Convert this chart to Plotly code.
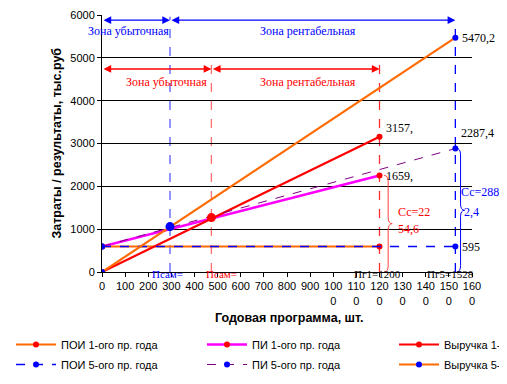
import plotly.graph_objects as go

# ---------------- data ----------------
x_ticks = [0, 100, 200, 300, 400, 500, 600, 700, 800, 900, 1000, 1100, 1200, 1300, 1400, 1500, 1600]
x_ticktext = ["0", "100", "200", "300", "400", "500", "600", "700", "800", "900",
              "100<br>0", "110<br>0", "120<br>0", "130<br>0", "140<br>0", "150<br>0", "160<br>0"]
y_ticks = [0, 1000, 2000, 3000, 4000, 5000, 6000]

pg1 = 1200          # Пг1
pg5 = 1528          # Пг5
poi = 595           # постоянные издержки
pi1_end = 2254.6    # ПИ 1-ого года при Пг1
rev1_end = 3157.2   # Выручка 1-ого года при Пг1
pi5_end = 2882.4    # ПИ 5-ого года при Пг5
rev5_end = 5470.2   # Выручка 5-ого года при Пг5
var1 = "1659,"
var5 = "2287,4"
bep1 = (473, 1270)  # Псам 1-ого года
bep5 = (294, 1060)  # Псам 5-ого года

series = [
    # name, x, y, line color, marker color, dash, width, legend, group
    ("ПОИ 1-ого пр. года", [0, pg1], [poi, poi], "#FF6A00", "#FF0000", "solid", 2.2, "legend", "a"),
    ("ПИ 1-ого пр. года", [0, pg1], [poi, pi1_end], "#FF00FF", "#FF0000", "solid", 2.5, "legend2", "a"),
    ("Выручка 1-", [0, pg1], [0, rev1_end], "#FF0000", "#FF0000", "solid", 2.2, "legend3", "a"),
    ("ПОИ 5-ого пр. года", [0, pg5], [poi, poi], "#0000FF", "#0000FF", "dash", 1.4, "legend", "b"),
    ("ПИ 5-ого пр. года", [0, pg5], [poi, pi5_end], "#800080", "#0000FF", "dash", 1.0, "legend2", "b"),
    ("Выручка 5-", [0, pg5], [0, rev5_end], "#FF6A00", "#0000FF", "solid", 2.2, "legend3", "b"),
]

fig = go.Figure()
for name, xs, ys, lc, mc, dash, w, lg, grp in series:
    fig.add_trace(go.Scatter(
        x=xs, y=ys, name=name, mode="lines+markers",
        line=dict(color=lc, width=w, dash=dash),
        marker=dict(color=mc, size=6),
        legend=lg, legendgroup=lg + grp,
    ))

# break-even markers
fig.add_trace(go.Scatter(x=[bep5[0]], y=[bep5[1]], mode="markers", showlegend=False,
                         marker=dict(color="#0000FF", size=9)))
fig.add_trace(go.Scatter(x=[bep1[0]], y=[bep1[1]], mode="markers", showlegend=False,
                         marker=dict(color="#FF0000", size=9)))

# vertical dashed lines
vlines = [
    (bep5[0], 5960, "#5A5AFF"),
    (bep1[0], 4960, "#FF7070"),
    (pg1, 5010, "#FF3030"),
    (pg5, 5880, "#0000FF"),
]
for xv, ytop, col in vlines:
    fig.add_shape(type="line", x0=xv, x1=xv, y0=0, y1=ytop, xref="x", yref="y",
                  line=dict(color=col, width=1.3, dash="dash"), layer="below")

serif = "Liberation Serif"

# zone arrows
arrow_y5 = 5880
arrow_y1 = 4740
arrows = [
    (0, bep5[0], arrow_y5, "#0000FF"),
    (bep5[0], pg5, arrow_y5, "#0000FF"),
    (0, bep1[0], arrow_y1, "#FF0000"),
    (bep1[0], pg1, arrow_y1, "#FF0000"),
]
for xa, xb, ya, col in arrows:
    fig.add_annotation(x=xb, y=ya, ax=xa, ay=ya, xref="x", yref="y", axref="x", ayref="y",
                       text="", showarrow=True, arrowhead=2, arrowside="end+start",
                       arrowsize=1.1, arrowwidth=1.4, arrowcolor=col, standoff=0, startstandoff=0)

texts = [
    (115, 5620, "Зона убыточная", "#0000FF", "center"),
    (890, 5620, "Зона рентабельная", "#0000FF", "center"),
    (280, 4440, "Зона убыточная", "#FF0000", "center"),
    (890, 4440, "Зона рентабельная", "#FF0000", "center"),
]
for xt, yt, t, col, al in texts:
    fig.add_annotation(x=xt, y=yt, text=t, showarrow=False, xref="x", yref="y",
                       font=dict(family=serif, size=12, color=col), xanchor=al)

# value labels
labels = [
    (pg5 + 20, rev5_end, str(rev5_end).replace(".", ","), "#000000"),
    (pg1 + 20, rev1_end + 200, "3157,", "#000000"),
    (pg5 + 15, 3245, var5, "#000000"),
    (pg1 + 20, pi1_end - 20, var1, "#000000"),
    (pg5 + 20, poi, str(poi), "#000000"),
    (pg1 + 70, 1400, "Сс=22", "#FF0000"),
    (pg1 + 70, 1000, "54,6", "#FF0000"),
    (pg5 + 15, 1860, "Сс=288", "#0000FF"),
    (pg5 + 30, 1400, "2,4", "#0000FF"),
]
for xt, yt, t, col in labels:
    fig.add_annotation(x=xt, y=yt, text=t, showarrow=False, xref="x", yref="y",
                       font=dict(family=serif, size=12, color=col), xanchor="left")

# bottom axis labels (paper y so they are not hidden below the axis range)
bottom = [
    (bep5[0] - 10, "Псам=", "#0000FF"),
    (bep1[0] + 45, "Псам=", "#FF0000"),
    (pg1 - 10, "Пг1=1200", "#000000"),
    (pg5 - 20, "Пг5=1528", "#000000"),
]
for xt, t, col in bottom:
    fig.add_annotation(x=xt, y=-0.006, text=t, showarrow=False, xref="x", yref="paper",
                       font=dict(family=serif, size=11, color=col), xanchor="center", yanchor="middle",
                       borderpad=0)

# axis titles
fig.add_annotation(x=-0.124, y=0.5, xref="paper", yref="paper", text="<b>Затраты / результаты, тыс.руб</b>",
                   textangle=-90, showarrow=False, font=dict(size=12.5), xanchor="center", yanchor="middle")
fig.add_annotation(x=0.508, y=-0.179, xref="paper", yref="paper", text="<b>Годовая программа, шт.</b>",
                   showarrow=False, font=dict(size=12.5), xanchor="center", yanchor="middle")

# braces
def brace(x0, y0, y1, w, d):
    ym = (y0 + y1) / 2
    xm = x0 + w / 2
    return (f"M {x0},{y0} Q {xm},{y0} {xm},{y0 + d} L {xm},{ym - d} "
            f"Q {xm},{ym} {x0 + w},{ym} Q {xm},{ym} {xm},{ym + d} "
            f"L {xm},{y1 - d} Q {xm},{y1} {x0},{y1}")

fig.add_shape(type="path", path=brace(pg1 + 20, 0, pi1_end, 35, 150), xref="x", yref="y",
              line=dict(color="#FF4040", width=1))
fig.add_shape(type="path", path=brace(pg5 + 5, 0, pi5_end, 35, 150), xref="x", yref="y",
              line=dict(color="#0000FF", width=1))

sans = "Liberation Sans"
leg_common = dict(orientation="v", xref="container", yref="container", xanchor="left", yanchor="top",
                  y=1 - 322 / 384, itemwidth=40, tracegroupgap=1,
                  font=dict(size=11), bgcolor="rgba(0,0,0,0)")
fig.update_layout(
    width=507, height=384,
    margin=dict(l=94, r=43, t=7, b=120, autoexpand=False),
    paper_bgcolor="white", plot_bgcolor="white",
    font=dict(family=sans, size=11, color="black"),
    xaxis=dict(range=[0, 1600], tickvals=x_ticks, ticktext=x_ticktext, showgrid=False, automargin=False,
               showline=True, linecolor="black", linewidth=1, ticks="outside", ticklen=4,
               tickcolor="black", zeroline=False, tickfont=dict(size=11)),
    yaxis=dict(range=[0, 6000], tickvals=y_ticks, showgrid=True, gridcolor="black", gridwidth=1,
               automargin=False,
               showline=True, linecolor="black", linewidth=1, ticks="outside", ticklen=4,
               tickcolor="black", zeroline=False, tickfont=dict(size=11)),
    legend=dict(x=3 / 507, **leg_common),
    legend2=dict(x=194 / 507, **leg_common),
    legend3=dict(x=386 / 507, **leg_common),
    showlegend=True,
)

fig.write_html("out.html")
